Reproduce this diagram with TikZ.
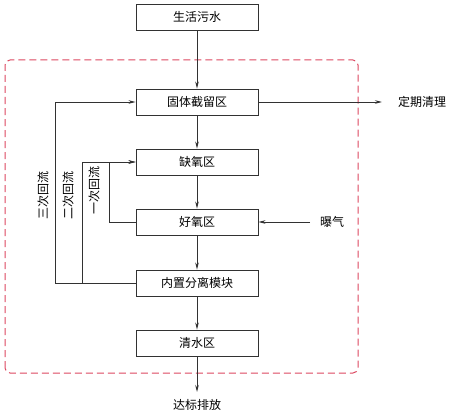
\documentclass[tikz,border=0pt]{standalone}
\usepackage{fontspec}
\setmainfont{Noto Sans CJK SC}[AutoFakeBold=1.2]
\usetikzlibrary{arrows.meta,positioning,calc}
\definecolor{linegray}{RGB}{50,50,50}
\definecolor{dashred}{RGB}{220,70,95}

\begin{document}
\begin{tikzpicture}[x=1pt,y=1pt,
    proc/.style={draw=linegray,line width=0.9pt,minimum width=122pt,minimum height=26pt,
      inner sep=0pt,font=\fontsize{12}{14}\selectfont},
    lbl/.style={font=\fontsize{12}{14}\selectfont,inner sep=1pt},
    flow/.style={draw=linegray,line width=0.9pt,-{Stealth[length=7pt,width=3.5pt]}},
    pipe/.style={draw=linegray,line width=0.9pt}]
  \useasboundingbox (0,0) rectangle (450,416);
  \draw[dashred,line width=1pt,dash pattern=on 7pt off 4pt,rounded corners=5pt]
    (5,43) rectangle (358,356); % 一体化设备的范围
  \node[proc] (src)  at (197,399) {生活污水};
  \node[proc] (gtjl) at (197,314) {固体截留区};
  \node[proc] (qy)   at (197,254) {缺氧区};
  \node[proc] (hy)   at (197,194) {好氧区};
  \node[proc] (fl)   at (197,133) {内置分离模块};
  \node[proc] (qs)   at (197,73)  {清水区};
  \node[lbl] (out)  at (197,11)  {达标排放};
  \node[lbl] (qingli) at (422,314) {定期清理};
  \node[lbl] (pq)   at (332,194) {曝气};
  \coordinate (outend) at (197,24);
  \coordinate (qlend) at (382,314);
  \coordinate (pqstart) at (310,194);
  % 主流程
  \draw[flow] (src) -- (gtjl);
  \draw[flow] (gtjl) -- (qy);
  \draw[flow] (qy) -- (hy);
  \draw[flow] (hy) -- (fl);
  \draw[flow] (fl) -- (qs);
  \draw[flow] (qs) -- (outend);
  \draw[flow] (gtjl) -- (qlend);
  \draw[flow] (pqstart) -- (hy);
  % 回流管线
  \draw[flow] (fl.west) -- ++(-80,0) |- (gtjl.west); % 三次回流
  \draw[flow] (fl.west) -- ++(-53,0) |- (qy.west); % 二次回流
  \draw[flow] (hy.west) -- ++(-26,0) |- (qy.west); % 一次回流
  \node[lbl,rotate=90] (r3) at (43,221) {三次回流};
  \node[lbl,rotate=90] (r2) at (68,221) {二次回流};
  \node[lbl,rotate=90] (r1) at (94,226) {一次回流};
\end{tikzpicture}
\end{document}
